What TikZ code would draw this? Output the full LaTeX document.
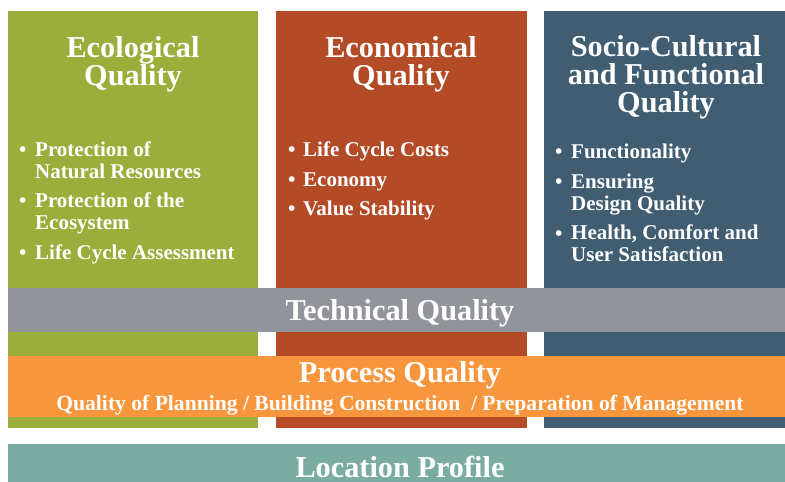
\documentclass[tikz,border=0pt]{standalone}
\usepackage{fontspec}
\setmainfont{Liberation Serif}
\definecolor{ecogreen}{RGB}{155,174,59}
\definecolor{econred}{RGB}{179,75,38}
\definecolor{sociblue}{RGB}{64,93,113}
\definecolor{techgray}{RGB}{146,148,155}
\definecolor{procorange}{RGB}{247,150,60}
\definecolor{locteal}{RGB}{122,172,162}
\begin{document}
\begin{tikzpicture}[x=1pt,y=-1pt,
  title/.style={text=white, font=\bfseries\fontsize{30.3}{28}\selectfont, align=center, anchor=base, inner sep=0pt},
  item/.style={text=white, font=\bfseries\fontsize{21}{22}\selectfont, align=left, anchor=base west, inner sep=0pt},
  bul/.style={text=white, font=\bfseries\fontsize{21}{22}\selectfont, anchor=base west, inner sep=0pt},
  sub/.style={text=white, font=\bfseries\fontsize{21.6}{22}\selectfont, anchor=base, inner sep=0pt},
]
\useasboundingbox (0,0) rectangle (785,482);

% three pillars
\fill[ecogreen] (8,11) rectangle (258,428);
\fill[econred] (276,11) rectangle (527,428);
\fill[sociblue] (544,11) rectangle (785,428);

% cross-cutting bars
\fill[techgray] (8,288) rectangle (785,332);
\fill[procorange] (8,356) rectangle (785,417);
\fill[locteal] (8,444) rectangle (785,482);

% pillar titles (anchored at the baseline of the last line)
\node[title] (ecoT) at (133,85) {Ecological\\Quality};
\node[title] (econT) at (401,85) {Economical\\Quality};
\node[title] (sociT) at (666,112) {Socio-Cultural\\and Functional\\Quality};

% ecological criteria
\node[bul] (b11) at (19,156) {•};
\node[item] (e1) at (35,178) {Protection of\\Natural Resources};
\node[bul] (b12) at (19,207) {•};
\node[item] (e2) at (35,229) {Protection of the\\Ecosystem};
\node[bul] (b13) at (19,259) {•};
\node[item] (e3) at (35,259) {Life Cycle Assessment};

% economical criteria
\node[bul] (b21) at (288,156) {•};
\node[item] (c1) at (303,156) {Life Cycle Costs};
\node[bul] (b22) at (288,186) {•};
\node[item] (c2) at (303,186) {Economy};
\node[bul] (b23) at (288,215) {•};
\node[item] (c3) at (303,215) {Value Stability};

% socio-cultural criteria
\node[bul] (b31) at (555,158) {•};
\node[item] (s1) at (571,158) {Functionality};
\node[bul] (b32) at (555,188) {•};
\node[item] (s2) at (571,210) {Ensuring\\Design Quality};
\node[bul] (b33) at (555,240) {•};
\node[item] (s3) at (571,261) {Health, Comfort and\\User Satisfaction};

% bar labels
\node[title] (tech) at (400,320) {Technical Quality};
\node[title] (proc) at (400,382) {Process Quality};
\node[sub] (procS) at (400,410) {Quality of Planning / Building Construction \ / Preparation of Management};
\node[title] (loc) at (400,477) {Location Profile};
\end{tikzpicture}
\end{document}
